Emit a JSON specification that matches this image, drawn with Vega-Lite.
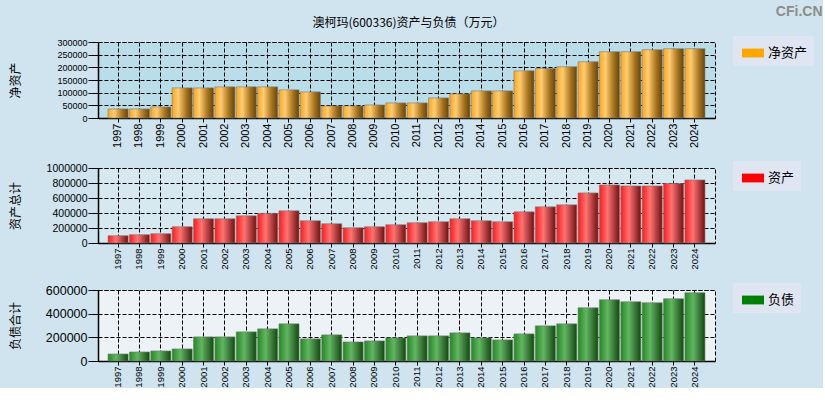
{
  "$schema": "https://vega.github.io/schema/vega-lite/v6.json",
  "background": "#cfe4ee",
  "padding": {"left": 8, "top": 4, "right": 0, "bottom": 0},
  "title": {"text": "CFi.CN", "anchor": "end", "frame": "bounds", "font": "Liberation Sans", "fontSize": 14, "fontWeight": "bold", "color": "#8c8c8c", "offset": -2, "dx": 8},
  "datasets": {
    "d": [
      {"year": "1997", "na": 35700, "ta": 97300, "tl": 59400},
      {"year": "1998", "na": 35700, "ta": 110600, "tl": 76400},
      {"year": "1999", "na": 43600, "ta": 123900, "tl": 84900},
      {"year": "2000", "na": 118900, "ta": 216800, "tl": 101900},
      {"year": "2001", "na": 118900, "ta": 323000, "tl": 203800},
      {"year": "2002", "na": 122900, "ta": 323000, "tl": 203800},
      {"year": "2003", "na": 122900, "ta": 362800, "tl": 246200},
      {"year": "2004", "na": 122900, "ta": 393800, "tl": 271700},
      {"year": "2005", "na": 111000, "ta": 429200, "tl": 314200},
      {"year": "2006", "na": 103100, "ta": 296500, "tl": 186800},
      {"year": "2007", "na": 47600, "ta": 256600, "tl": 220700},
      {"year": "2008", "na": 47600, "ta": 203500, "tl": 161300},
      {"year": "2009", "na": 51500, "ta": 216800, "tl": 169800},
      {"year": "2010", "na": 59500, "ta": 243400, "tl": 195300},
      {"year": "2011", "na": 59500, "ta": 270000, "tl": 212300},
      {"year": "2012", "na": 79300, "ta": 283200, "tl": 212300},
      {"year": "2013", "na": 95200, "ta": 323000, "tl": 237700},
      {"year": "2014", "na": 107000, "ta": 296500, "tl": 195300},
      {"year": "2015", "na": 107000, "ta": 283200, "tl": 178300},
      {"year": "2016", "na": 186300, "ta": 416000, "tl": 229200},
      {"year": "2017", "na": 195600, "ta": 482300, "tl": 297200},
      {"year": "2018", "na": 202200, "ta": 508900, "tl": 314200},
      {"year": "2019", "na": 222000, "ta": 668200, "tl": 450000},
      {"year": "2020", "na": 261700, "ta": 774300, "tl": 517900},
      {"year": "2021", "na": 261700, "ta": 761100, "tl": 500900},
      {"year": "2022", "na": 269600, "ta": 761100, "tl": 492400},
      {"year": "2023", "na": 273600, "ta": 792000, "tl": 526400},
      {"year": "2024", "na": 273600, "ta": 840700, "tl": 577300}
    ]
  },
  "data": {"name": "d"},
  "spacing": 12,
  "resolve": {"scale": {"color": "independent"}, "legend": {"color": "independent"}},
  "vconcat": [
    {
      "width": 617,
      "height": 76,
      "title": {"text": "澳柯玛(600336)资产与负债（万元）", "anchor": "middle", "frame": "group", "font": "Noto Sans CJK SC", "fontSize": 12, "fontWeight": "normal", "color": "black", "offset": 6, "dx": 2},
      "view": {"stroke": "black", "strokeDash": [4, 2], "fill": "#b9dde9"},
      "encoding": {
        "x": {"field": "year", "type": "ordinal", "scale": {"paddingInner": 0.06, "paddingOuter": 0.47},
              "axis": {"title": null, "labelAngle": -90, "labelFontSize": 11, "tickSize": 4, "labelPadding": 1, "grid": true}},
        "y": {"field": "na", "type": "quantitative", "scale": {"domain": [0, 300000], "nice": false},
              "axis": {"title": "净资产", "titleX": -76, "values": [0, 50000, 100000, 150000, 200000, 250000, 300000], "format": "d", "labelFontSize": 9, "tickSize": 10, "labelPadding": 1, "grid": true}}
      },
      "layer": [
        {
          "mark": {"type": "bar", "opacity": 0},
          "encoding": {"color": {"datum": "净资产", "type": "nominal", "scale": {"range": ["#FFA500"]},
            "legend": {"orient": "none", "legendX": 635, "legendY": -6}}}
        },
        {
          "mark": {"type": "bar", "color": {"gradient": "linear", "x1": 0, "y1": 0, "x2": 1, "y2": 0, "stops": [{"offset": 0, "color": "#ffa510"}, {"offset": 0.3, "color": "#ffcd76"}, {"offset": 0.7, "color": "#a8741c"}, {"offset": 1, "color": "#66440c"}]}, "stroke": "#7a7a7a", "strokeWidth": 0.6}
        }
      ]
    },
    {
      "width": 617,
      "height": 75,
      "view": {"stroke": "black", "strokeDash": [4, 2], "fill": "#d6e8f0"},
      "encoding": {
        "x": {"field": "year", "type": "ordinal", "scale": {"paddingInner": 0.06, "paddingOuter": 0.47},
              "axis": {"title": null, "labelAngle": -90, "labelFontSize": 9.5, "tickSize": 4, "labelPadding": 1, "grid": true}},
        "y": {"field": "ta", "type": "quantitative", "scale": {"domain": [0, 1000000], "nice": false},
              "axis": {"title": "资产总计", "titleX": -76, "values": [0, 200000, 400000, 600000, 800000, 1000000], "format": "d", "labelFontSize": 10.5, "tickSize": 10, "labelPadding": 1, "grid": true}}
      },
      "layer": [
        {
          "mark": {"type": "bar", "opacity": 0},
          "encoding": {"color": {"datum": "资产", "type": "nominal", "scale": {"range": ["#FF0000"]},
            "legend": {"orient": "none", "legendX": 635, "legendY": -7}}}
        },
        {
          "mark": {"type": "bar", "color": {"gradient": "linear", "x1": 0, "y1": 0, "x2": 1, "y2": 0, "stops": [{"offset": 0, "color": "#ff1a1a"}, {"offset": 0.4, "color": "#ff7373"}, {"offset": 1, "color": "#731010"}]}, "stroke": "#7a7a7a", "strokeWidth": 0.6}
        }
      ]
    },
    {
      "width": 617,
      "height": 71,
      "view": {"stroke": "black", "strokeDash": [4, 2], "fill": "#ecf2f5"},
      "encoding": {
        "x": {"field": "year", "type": "ordinal", "scale": {"paddingInner": 0.06, "paddingOuter": 0.47},
              "axis": {"title": null, "labelAngle": -90, "labelFontSize": 9.5, "tickSize": 4, "labelPadding": 1, "grid": true}},
        "y": {"field": "tl", "type": "quantitative", "scale": {"domain": [0, 600000], "nice": false},
              "axis": {"title": "负债合计", "titleX": -76, "values": [0, 200000, 400000, 600000], "format": "d", "labelFontSize": 12.5, "tickSize": 10, "labelPadding": 1, "grid": true}}
      },
      "layer": [
        {
          "mark": {"type": "bar", "opacity": 0},
          "encoding": {"color": {"datum": "负债", "type": "nominal", "scale": {"range": ["#008000"]},
            "legend": {"orient": "none", "legendX": 635, "legendY": -7}}}
        },
        {
          "mark": {"type": "bar", "color": {"gradient": "linear", "x1": 0, "y1": 0, "x2": 1, "y2": 0, "stops": [{"offset": 0, "color": "#1e8c1e"}, {"offset": 0.4, "color": "#64b464"}, {"offset": 1, "color": "#104a10"}]}, "stroke": "#7a7a7a", "strokeWidth": 0.6}
        }
      ]
    }
  ],
  "config": {
    "axis": {"domainColor": "black", "tickColor": "black", "gridColor": "black", "gridDash": [4, 2], "gridOpacity": 1, "gridWidth": 1, "labelColor": "black", "labelFont": "Liberation Sans", "titleFont": "Noto Sans CJK SC", "titleFontSize": 12, "titleFontWeight": "normal", "titleColor": "black", "domainWidth": 1.5},
    "legend": {"title": null, "fillColor": "#e0e5f2", "padding": 6, "symbolType": "M-1,-0.4H1V0.4H-1Z", "symbolSize": 484, "symbolOpacity": 1, "symbolStrokeWidth": 0, "symbolOffset": 3, "labelFont": "Noto Sans CJK SC", "labelFontSize": 13, "labelColor": "black", "labelOffset": 4, "labelExpr": "datum.label + '\u3000   '"}
  }
}
